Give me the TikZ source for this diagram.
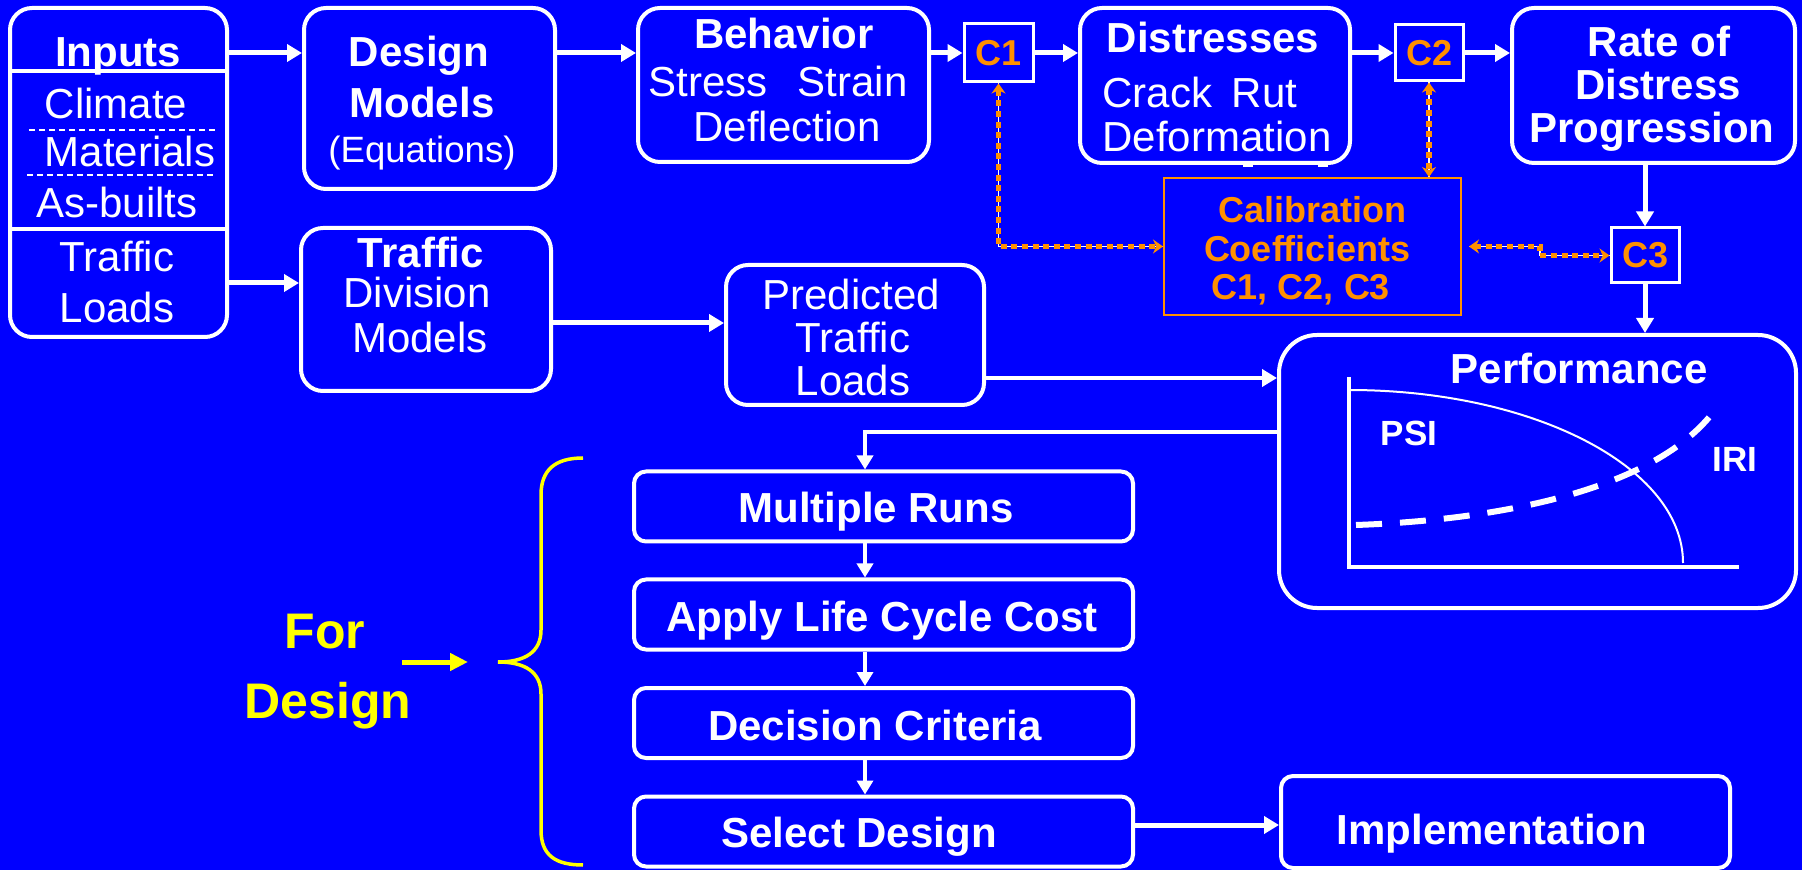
\documentclass[tikz,border=0pt]{standalone}
\usepackage{fontspec}
\setmainfont{Liberation Sans}
\usetikzlibrary{arrows.meta}
\definecolor{bg}{RGB}{0,0,255}
\definecolor{org}{RGB}{255,144,0}
\definecolor{yel}{RGB}{255,255,0}
\begin{document}
\begin{tikzpicture}[x=0.5pt,y=-0.5pt,
  wbox/.style={draw=white, line width=2pt, rounded corners=11pt, inner sep=0pt},
  lbox/.style={wbox, rounded corners=6pt, minimum width=249.5pt, minimum height=35pt},
  cbox/.style={draw=white, line width=1.5pt, inner sep=0pt, text=org, font=\fontsize{18pt}{20pt}\selectfont\bfseries},
  t/.style={text=white, anchor=base, inner sep=0pt, font=\fontsize{21pt}{25pt}\selectfont},
  tb/.style={t, font=\fontsize{21pt}{25pt}\selectfont\bfseries},
  to/.style={t, text=org, font=\fontsize{18pt}{20pt}\selectfont\bfseries},
  ts/.style={t, font=\fontsize{17.5pt}{20pt}\selectfont\bfseries},
  ty/.style={t, text=yel, font=\fontsize{25pt}{28pt}\selectfont\bfseries},
  arr/.style={draw=white, line width=2.5pt, -{Triangle[length=7.5pt,width=8.5pt]}},
  arrt/.style={draw=white, line width=1.75pt, -{Triangle[length=7pt,width=8pt]}},
  obase/.style={draw=white, line width=0.6pt},
  oarr/.style={draw=org, line width=2.6pt, dash pattern=on 3pt off 2.3pt,
    {Stealth[length=5pt,width=7pt]}-{Stealth[length=5pt,width=7pt]}}
]
\fill[bg] (0,0) rectangle (1802,870);
\useasboundingbox (0,0) rectangle (1802,870);

% boxes
\node[wbox, minimum width=108.5pt, minimum height=164.5pt] (inputs) at (118.5,172.5) {};
\node[wbox, minimum width=125.5pt, minimum height=90.5pt] (design) at (429.5,98.5) {};
\node[wbox, minimum width=145.5pt, minimum height=77pt] (behav) at (783.5,85) {};
\node[cbox, minimum width=34.5pt, minimum height=29pt] (c1) at (998.5,53) {C1};
\node[wbox, minimum width=135pt, minimum height=77.5pt] (dist) at (1215,85.5) {};
\node[cbox, minimum width=34pt, minimum height=28pt] (c2) at (1429,53) {C2};
\node[wbox, minimum width=141.5pt, minimum height=77.5pt] (rate) at (1653.5,85.5) {};
\node[cbox, minimum width=34pt, minimum height=27.5pt] (c3) at (1645,255.5) {C3};
\node[draw=org, line width=1pt, inner sep=0pt, minimum width=148.5pt, minimum height=68.5pt] (cal) at (1312.5,246.5) {};
\node[wbox, minimum width=125pt, minimum height=81.5pt] (traffic) at (426,309.5) {};
\node[wbox, minimum width=129pt, minimum height=70pt] (pred) at (855,335) {};
\node[wbox, rounded corners=19pt, minimum width=258.5pt, minimum height=136.5pt] (perf) at (1537.5,471.5) {};
\node[lbox] (mult) at (883.5,506.5) {};
\node[lbox] (apply) at (883.5,614.5) {};
\node[lbox] (decis) at (883.5,723) {};
\node[lbox] (select) at (883.5,831.5) {};
\node[lbox, minimum width=224.5pt, minimum height=46pt] (impl) at (1505.5,822) {};

% small stubs under Distresses
\fill[white] (1243,162) rectangle (1253,167);
\fill[white] (1318,162) rectangle (1328,167);

% inputs dividers
\draw[white, line width=2pt] (inputs.west |- 0,71) -- (inputs.east |- 0,71);
\draw[white, line width=2pt] (inputs.west |- 0,229) -- (inputs.east |- 0,229);
\draw[white, line width=1pt, dash pattern=on 3pt off 2pt] (29,130) -- (216,130);
\draw[white, line width=1pt, dash pattern=on 3pt off 2pt] (27,175) -- (215,175);

% texts
\node[tb] (tInputs) at (118,67) {Inputs};
\node[t] (tClimate) at (116,119) {Climate};
\node[t] (tMaterials) at (130,167) {Materials};
\node[t] (tAsbuilts) at (117,218) {As-builts};
\node[t] (tTraffic1) at (117,272) {Traffic};
\node[t] (tLoads1) at (117,323) {Loads};

\node[tb] (tDesign) at (419,67) {Design};
\node[tb] (tModels) at (422,118) {Models};
\node[t, font=\fontsize{18.3pt}{22pt}\selectfont] (tEq) at (422,163) {(Equations)};

\node[tb] (tBehav) at (784,49) {Behavior};
\node[t] (tStress) at (778,97) {Stress\hspace{15pt}Strain};
\node[t] (tDefl) at (787,142) {Deflection};

\node[tb] (tDist) at (1213,53) {Distresses};
\node[t] (tCrack) at (1200,108) {Crack\hspace{4pt} Rut};
\node[t] (tDeform) at (1217,152) {Deformation};

\node[tb] (tRate) at (1659,57) {Rate of};
\node[tb] (tDistress) at (1658,100) {Distress};
\node[tb] (tProg) at (1652,143) {Progression};

\node[tb] (tTraffic2) at (421,268) {Traffic};
\node[t] (tDivision) at (417,308) {Division};
\node[t] (tModels2) at (420,353) {Models};

\node[t] (tPred) at (851,310) {Predicted};
\node[t] (tTraffic3) at (853,353) {Traffic};
\node[t] (tLoads2) at (853,396) {Loads};

\node[to] (tCal) at (1312,223) {Calibration};
\node[to] (tCoef) at (1307,262) {Coefficients};
\node[to] (tCs) at (1301,300) {C1, C2, C3};

\node[tb] (tPerf) at (1579,384) {Performance};
\node[ts] (tPSI) at (1409,446) {PSI};
\node[ts] (tIRI) at (1735,472) {IRI};

\node[tb] (tMult) at (876,523) {Multiple Runs};
\node[tb] (tApply) at (882,632) {Apply Life Cycle Cost};
\node[tb] (tDecis) at (875,740) {Decision Criteria};
\node[tb] (tSelect) at (859,847) {Select Design};
\node[tb] (tImpl) at (1492,844) {Implementation};

\node[ty] (tFor) at (325,648) {For};
\node[ty] (tForDesign) at (328,718) {Design};

% performance graph
\draw[white, line width=1.75pt] (1349,377) -- (1349,567) -- (1739,567);
\draw[white, line width=1pt] (1349,390) .. controls (1533,390) and (1683,467) .. (1683,563);
\draw[white, line width=3pt, dash pattern=on 13pt off 9pt] (1356,525) .. controls (1500,520) and (1650,490) .. (1711,415);

% connectors
\coordinate (r1) at (0,53);
\coordinate (r2) at (0,283);
\coordinate (r3) at (0,323);
\coordinate (r4) at (0,378);
\coordinate (r5) at (0,432);
\coordinate (r6) at (0,825);
\coordinate (col) at (865,0);
\draw[arr] (inputs.east |- r1) -- (design.west |- r1);
\draw[arr] (design.east |- r1) -- (behav.west |- r1);
\draw[arr] (behav.east |- r1) -- (c1.west);
\draw[arr] (c1.east) -- (dist.west |- r1);
\draw[arr] (dist.east |- r1) -- (c2.west);
\draw[arr] (c2.east) -- (rate.west |- r1);
\draw[arr] (rate.south -| c3.north) -- (c3.north);
\draw[arr] (c3.south) -- (c3.south |- perf.north);
\draw[arr] (inputs.east |- r2) -- (traffic.west |- r2);
\draw[arr] (traffic.east |- r3) -- (pred.west |- r3);
\draw[arr, line width=2pt] (pred.east |- r4) -- (perf.west |- r4);
\draw[arrt] (perf.west |- r5) -| (col |- mult.north);
\draw[arrt] (col |- mult.south) -- (col |- apply.north);
\draw[arrt] (col |- apply.south) -- (col |- decis.north);
\draw[arrt] (col |- decis.south) -- (col |- select.north);
\draw[arr] (select.east |- r6) -- (impl.west |- r6);

% orange calibration links
\draw[obase] (c1.south) |- (cal.west);
\draw[oarr] (c1.south) |- (cal.west);
\draw[obase] (c2.south) -- (c2.south |- cal.north);
\draw[oarr] (c2.south) -- (c2.south |- cal.north);
\draw[obase] (cal.east) ++(7,0) -- ++(71,0) |- (c3.west);
\draw[oarr] (cal.east) ++(7,0) -- ++(71,0) |- (c3.west);

% brace and yellow arrow
\draw[yel, line width=1.75pt] (583,458) .. controls (555,458) and (541,470) .. (541,495) -- (541,630)
  .. controls (541,652) and (525,662) .. (498,662) .. controls (525,662) and (541,672) .. (541,694)
  -- (541,830) .. controls (541,855) and (555,865) .. (583,865);
\coordinate (ya) at (402,662);
\coordinate (yb) at (468,662);
\draw[yel, line width=2.5pt, -{Triangle[length=9pt,width=8.5pt]}] (ya) -- (yb);
\end{tikzpicture}
\end{document}
